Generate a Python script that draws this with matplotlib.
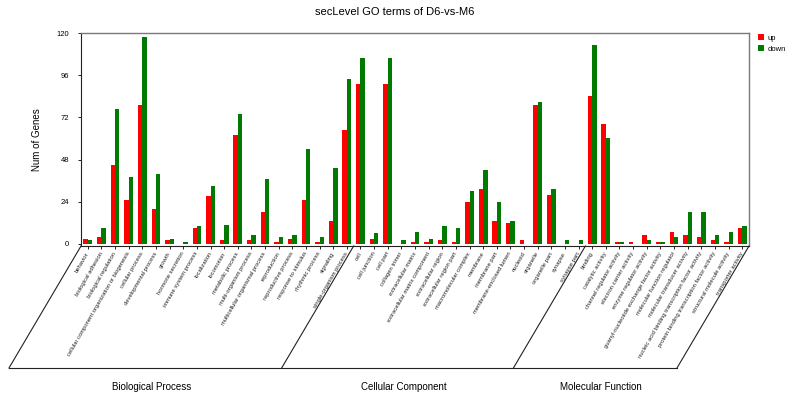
import matplotlib
matplotlib.use("Agg")
import matplotlib.pyplot as plt
import numpy as np

plt.rcParams['font.family'] = ['Liberation Sans', 'DejaVu Sans']

bp_terms = ["behavior", "biological adhesion", "biological regulation",
            "cellular component organization or biogenesis", "cellular process",
            "developmental process", "growth", "hormone secretion",
            "immune system process", "localization", "locomotion",
            "metabolic process", "multi-organism process",
            "multicellular organismal process", "reproduction",
            "reproductive process", "response to stimulus", "rhythmic process",
            "signaling", "single-organism process"]
cc_terms = ["cell", "cell junction", "cell part", "collagen trimer",
            "extracellular matrix", "extracellular matrix component",
            "extracellular region", "extracellular region part",
            "macromolecular complex", "membrane", "membrane part",
            "membrane-enclosed lumen", "nucleoid", "organelle",
            "organelle part", "synapse", "synapse part"]
mf_terms = ["binding", "catalytic activity", "channel regulator activity",
            "electron carrier activity", "enzyme regulator activity",
            "guanyl-nucleotide exchange factor activity",
            "molecular function regulator", "molecular transducer activity",
            "nucleic acid binding transcription factor activity",
            "protein binding transcription factor activity",
            "structural molecule activity", "transporter activity"]

bp_up = [3, 4, 45, 25, 79, 20, 2, 0, 9, 27, 2, 62, 2, 18, 1, 3, 25, 1, 13, 65]
bp_down = [2, 9, 77, 38, 118, 40, 3, 1, 10, 33, 11, 74, 5, 37, 4, 5, 54, 4, 43, 94]
cc_up = [91, 3, 91, 0, 1, 1, 2, 1, 24, 31, 13, 12, 2, 79, 28, 0, 0]
cc_down = [106, 6, 106, 2, 7, 3, 10, 9, 30, 42, 24, 13, 0, 81, 31, 2, 2]
mf_up = [84, 68, 1, 1, 5, 1, 7, 5, 4, 2, 1, 9]
mf_down = [113, 60, 1, 0, 2, 1, 4, 18, 18, 5, 7, 10]

group_names = ["Biological Process", "Cellular Component", "Molecular Function"]
yticks = [0, 24, 48, 72, 96, 120]

terms = bp_terms + cc_terms + mf_terms
up = bp_up + cc_up + mf_up
down = bp_down + cc_down + mf_down
sizes = [len(bp_terms), len(cc_terms), len(mf_terms)]
n = len(terms)
x = np.arange(n)

W, H = 792, 401
fig = plt.figure(figsize=(W / 100, H / 100), dpi=100)
ax_l, ax_r, ax_t, ax_b = 81, 749, 33, 246
ax = fig.add_axes([ax_l / W, 1 - ax_b / H, (ax_r - ax_l) / W, (ax_b - ax_t) / H])

w = 0.32
ax.bar(x - w / 2, up, width=w, color='#FF0000', label='up')
ax.bar(x + w / 2, down, width=w, color='#007A00', label='down')

ax.set_xlim(-0.5, n - 0.5)
ax.set_ylim(-1.2, 120)
ax.set_yticks(yticks)
ax.set_yticklabels([str(v) for v in yticks], fontsize=5.5)
ax.set_xticks(x)
ax.set_xticklabels(terms, rotation=60, ha='right', va='center',
                   rotation_mode='anchor', fontsize=4.2, color='#222222')
ax.tick_params(axis='x', length=2.5, width=0.6, pad=2)
ax.tick_params(axis='y', length=2.5, width=0.6, pad=6)
for s in ['top', 'right']:
    ax.spines[s].set_color('#7a7a7a')
    ax.spines[s].set_linewidth(1.0)
for s in ['left', 'bottom']:
    ax.spines[s].set_color('#222222')
    ax.spines[s].set_linewidth(0.8)

ax.set_ylabel("Num of Genes", fontsize=7)
ax.yaxis.set_label_coords((42 - ax_l) / (ax_r - ax_l), 0.5)

fig.text(395 / W, 1 - 12 / H, "secLevel GO terms of D6-vs-M6",
         ha='center', va='center', fontsize=8)

# Bracket lines below the axis (axes coordinates)
drop = (368 - ax_b) / (ax_b - ax_t)
shift = 72 / (ax_r - ax_l)
bounds = np.concatenate([[0], np.cumsum(sizes)]) / n
for b in bounds:
    ax.plot([b, b - shift], [0, -drop], color='#222222', lw=0.8,
            transform=ax.transAxes, clip_on=False)
ax.plot([bounds[0] - shift, bounds[-1] - shift], [-drop, -drop],
        color='#222222', lw=0.8, transform=ax.transAxes, clip_on=False)
text_y = -(387 - ax_b) / (ax_b - ax_t)
for i, name in enumerate(group_names):
    cx = (bounds[i] + bounds[i + 1]) / 2 - shift + 6 / (ax_r - ax_l)
    ax.text(cx, text_y, name, transform=ax.transAxes, ha='center',
            va='center', fontsize=7)

ax.legend(loc='upper left', bbox_to_anchor=(755 / W, 1 - 31 / H),
          bbox_transform=fig.transFigure, frameon=False, fontsize=5.5,
          handlelength=0.8, handleheight=0.8, handletextpad=0.4,
          labelspacing=0.5, borderaxespad=0)

fig.savefig("out.png", dpi=100)
